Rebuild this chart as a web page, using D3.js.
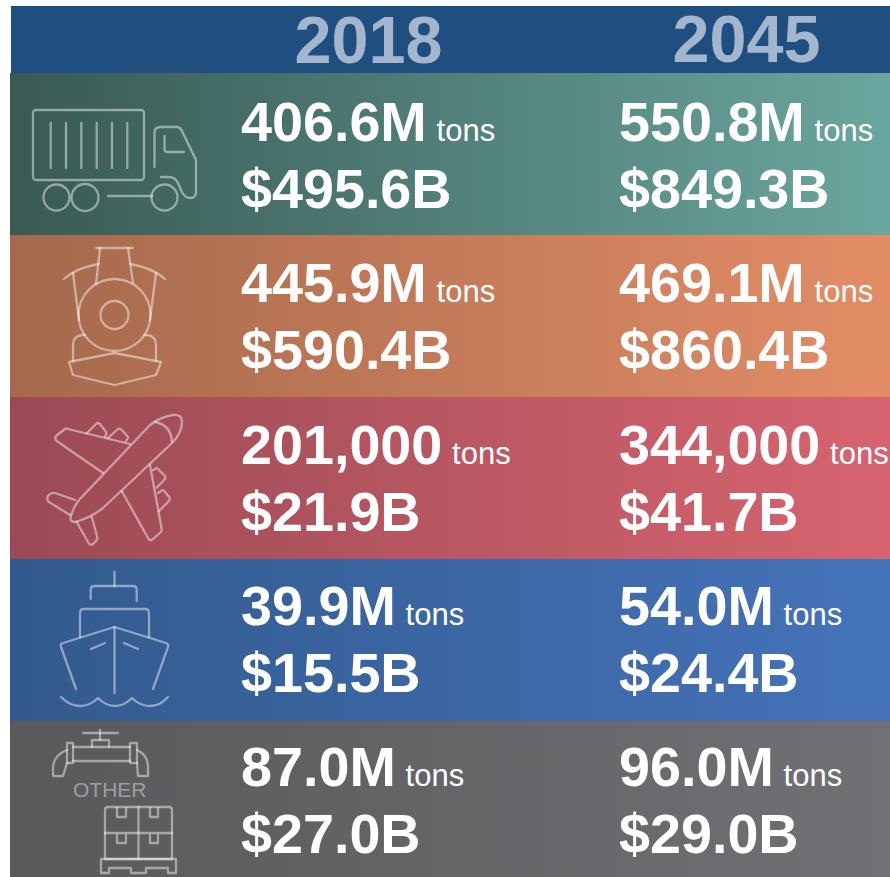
<!DOCTYPE html>
<html><head><meta charset="utf-8">
<script src="https://cdn.jsdelivr.net/npm/d3@7"></script>
<style>html,body{margin:0;padding:0;background:#fff}svg{display:block}text{font-family:"Liberation Sans",Arial,sans-serif}</style>
</head><body><div id="chart"></div>
<script>
const years = ["2018", "2045"];
const modes = ["truck", "rail", "air", "water", "other"];
const tons2018 = ["406.6M", "445.9M", "201,000", "39.9M", "87.0M"];
const tons2045 = ["550.8M", "469.1M", "344,000", "54.0M", "96.0M"];
const value2018 = ["$495.6B", "$590.4B", "$21.9B", "$15.5B", "$27.0B"];
const value2045 = ["$849.3B", "$860.4B", "$41.7B", "$24.4B", "$29.0B"];
const leftColors = ["#395954", "#a5694c", "#9a4a55", "#325a8d", "#58595b"];
const rightColors = ["#6aa69f", "#e38d66", "#d7646f", "#4573ba", "#707174"];

const icons = {
  truck: ["M36,110H141a3,3 0 0 1 3,3V177a3,3 0 0 1 -3,3H36a3,3 0 0 1 -3,-3V113a3,3 0 0 1 3,-3Z",
    "M50.7,123V168","M66,123V168","M81.3,123V168","M96.7,123V168","M112,123V168","M127.3,123V168",
    "M154.5,167V133q0,-6 6,-6H177q3,0 5,4L196,160V192q0,6 -6,6H190q-5,0 -8,-6L178,183q-3,-6 -9,-6H161",
    "M164.5,136V149q0,3 3,3H184",
    "M43.5,197.5a13,13 0 1 0 26,0a13,13 0 1 0 -26,0","M71.5,197.5a13.5,13.5 0 1 0 27,0a13.5,13.5 0 1 0 -27,0",
    "M151.5,197.5a13,13 0 1 0 26,0a13,13 0 1 0 -26,0","M108,196H152"],
  rail: ["M96,248H133","M100,248L96,284","M128,248L133,283",
    "M78.5,315a36,36 0 1 0 72,0a36,36 0 1 0 -72,0","M100.5,315a14,14 0 1 0 28,0a14,14 0 1 0 -28,0",
    "M64,279Q76,268 99,264","M165,279Q153,268 130,264","M73,273L79,320","M156,273L150,320",
    "M73,361V345q0,-9 9,-10h3","M156,361V345q0,-9 -9,-10h-3",
    "M69,362L114.5,353L161,362L156,375L114.5,385L73,375Z"],
  air: ["M71,516Q73,508 79,500L150,425Q160,417 173,415Q182,414 182,422Q182,433 172,443L103,508Q90,518 75,522Q69,522 71,516Z",
    "M155,422Q171,425 172,442",
    "M103,473L56.7,441Q54,438 56,436L65,429Q66,428 68,429L130,444",
    "M86.7,433.3L96,424Q98,422 100,424L106,432Q107,434 105,436.7","M108,438L118,429Q120,428 122,430L128,437Q128,439 126,441",
    "M121.7,491L148,538Q150,542 153,539L161,532Q162,531 161.7,529L150,465",
    "M153,470L155,469Q157,467 159,470L165,476Q166,478 164,480L156.7,487.7","M158,493L161,491Q163,489 165,492L170,498Q170,500 168,502L159,511",
    "M75,500L55,493Q51,492 48,496Q46,499 49,502L70,515",
    "M76.7,522L88,542Q90,546 93,544L96,541Q98,539 97,536L91.7,516.7"],
  water: ["M114.5,572V586","M90.7,599V590q0,-4 4,-4H133q3.7,0 3.7,4V601","M80,637V613q0,-4 4,-4H145q4,0 4,4V637",
    "M76,689L61,647q-1,-3 2,-4L114.5,627L166,643q3,1 2,4L153,689","M114.5,627V693","M91,649L105,643","M124,643L138,649",
    "M61,697Q70,706 80,706Q90,706 98,698Q106,706 115,706Q124,706 132,698Q140,706 150,706Q160,706 168,697"],
  other: ["M83,733H118","M100,730V740","M92,747V740H109V747","M73,747H130","M73,761H130",
    "M67,743H73V763H67Z","M130,743H137V763H130Z",
    "M67,750Q54,755 53,767V776H63L67,763","M137,750Q148,755 148,767V776H138L137,763",
    "M108,807H169q3,0 3,3V859H105V810q0,-3 3,-3Z","M138.5,807V859","M105,833H172",
    "M117,808V817H126V808","M150,808V817H158V808","M117,835V843H126V835","M150,835V843H158V835",
    "M101,859H176V873H168V868H146V873H131V868H109V873H101Z"]
};

const W = 890, H = 877, rowTop = 73, rowStep = 162, textStep = 161.25;
const svg = d3.select("#chart").append("svg").attr("width", W).attr("height", H);
const defs = svg.append("defs");

const y = d3.scaleBand().domain(modes).range([rowTop, rowTop + rowStep * modes.length]).padding(0);
const yText = d3.scaleBand().domain(modes).range([rowTop, rowTop + textStep * modes.length]).padding(0);
const x = d3.scalePoint().domain(years).range([241, 619]);

svg.append("rect").attr("x", 11).attr("y", 6).attr("width", W - 11).attr("height", 68).attr("fill", "#1f4e80");
svg.selectAll(".year").data(years).join("text").attr("class", "year")
  .attr("x", d => x(d) + 53.5).attr("y", d => d === "2018" ? 63 : 62)
  .attr("fill", "#a3b6cd").attr("font-size", 66.5).attr("font-weight", 700).text(d => d);

modes.forEach((m, i) => {
  const g = defs.append("linearGradient").attr("id", "grad-" + m).attr("x1", 0).attr("x2", 1).attr("y1", 0).attr("y2", 0);
  g.append("stop").attr("offset", 0).attr("stop-color", leftColors[i]);
  g.append("stop").attr("offset", 1).attr("stop-color", rightColors[i]);
});

svg.selectAll(".band").data(modes).join("rect").attr("class", "band")
  .attr("x", 10).attr("y", d => y(d)).attr("width", W - 10).attr("height", y.bandwidth())
  .attr("fill", d => `url(#grad-${d})`);

const iconG = svg.append("g").attr("fill", "none").attr("stroke", "#fff").attr("stroke-opacity", 0.46)
  .attr("stroke-width", 2.3).attr("stroke-linecap", "round").attr("stroke-linejoin", "round");
modes.forEach(m => {
  iconG.append("g").selectAll("path").data(icons[m]).join("path").attr("d", d => d);
});
svg.append("text").attr("x", 73).attr("y", 797).attr("font-size", 21).attr("fill", "#fff").attr("fill-opacity", 0.42).text("OTHER");

function column(year, tons, values) {
  const rows = svg.append("g").selectAll("g").data(modes).join("g")
    .attr("transform", d => `translate(${x(year)},${yText(d)})`);
  const t = rows.append("text").attr("y", 68).attr("fill", "#fff");
  t.append("tspan").attr("font-size", 55.7).attr("font-weight", 700).text((d, i) => tons[i]);
  t.append("tspan").attr("dx", 9.8).attr("font-size", 31).text("tons");
  rows.append("text").attr("y", 135).attr("fill", "#fff").attr("font-size", 55.7).attr("font-weight", 700)
    .text((d, i) => values[i]);
}
column("2018", tons2018, value2018);
column("2045", tons2045, value2045);
</script></body></html>
